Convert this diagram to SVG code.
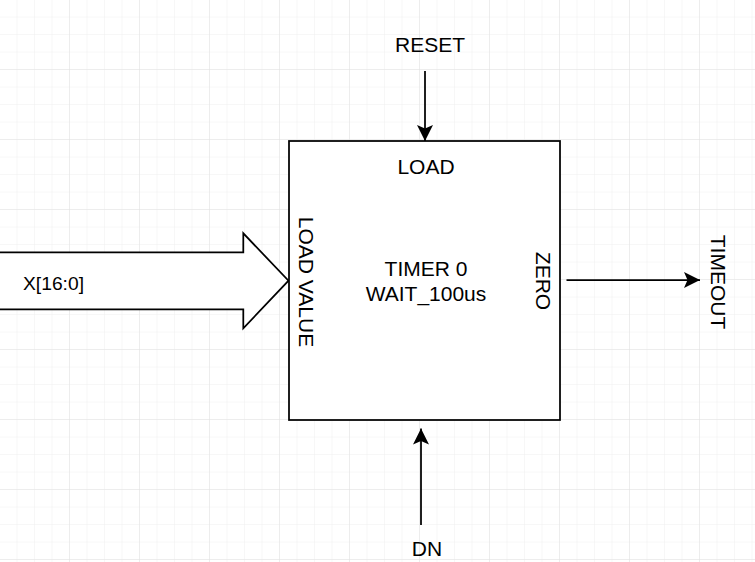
<svg xmlns="http://www.w3.org/2000/svg" width="755" height="562" viewBox="0 0 755 562">
<defs>
<pattern id="minor" width="17.5" height="17.5" patternUnits="userSpaceOnUse">
<path d="M17.5 0V17.5M0 17.5H17.5" fill="none" stroke="#f0f0f0" stroke-width="1"/>
</pattern>
<pattern id="major" width="70" height="70" patternUnits="userSpaceOnUse">
<rect width="70" height="70" fill="url(#minor)"/>
<path d="M70 0V70M0 70H70" fill="none" stroke="#e2e2e2" stroke-width="1"/>
</pattern>
<marker id="arr" viewBox="0 0 16 16" refX="16" refY="8" markerWidth="16" markerHeight="16" markerUnits="userSpaceOnUse" orient="auto">
<path d="M0 0L16 8L0 16L3.5 8Z" fill="#000"/>
</marker>
</defs>
<style>
text{font-family:"Liberation Sans",Arial,sans-serif;font-size:21px;fill:#000}
.c{text-anchor:middle}
.ln{fill:none;stroke:#000;stroke-width:1.75}
</style>
<rect x="-1" y="-1" width="757" height="564" fill="#fff"/>
<rect x="-0.5" y="-0.5" width="757" height="564" fill="url(#major)"/>
<g id="connectors">
<line class="ln" x1="425" y1="71" x2="425" y2="141" marker-end="url(#arr)"/>
<line class="ln" x1="421" y1="525" x2="421" y2="428.5" marker-end="url(#arr)"/>
<line class="ln" x1="566.5" y1="280" x2="700" y2="280" marker-end="url(#arr)"/>
</g>
<g id="bus-arrow">
<polygon points="-5,252.3 243.3,252.3 243.3,233.3 288.5,280.7 243.3,328.3 243.3,309.3 -5,309.3" fill="#fff" stroke="#000" stroke-width="1.75"/>
<text x="23" y="290" style="font-size:19.25px">X[16:0]</text>
</g>
<g id="timer">
<rect x="289" y="141" width="271" height="279" fill="#fff" stroke="#000" stroke-width="1.75"/>
<text class="c" x="426" y="174">LOAD</text>
<text class="c" x="426" y="276">TIMER 0</text>
<text class="c" x="426" y="301">WAIT_100us</text>
<text class="c" transform="translate(299,282) rotate(90)">LOAD VALUE</text>
<text class="c" transform="translate(536,281) rotate(90)">ZERO</text>
</g>
<g id="reset"><text class="c" x="430" y="52">RESET</text></g>
<g id="dn"><text class="c" x="427" y="556">DN</text></g>
<g id="timeout"><text class="c" transform="translate(711,282) rotate(90)">TIMEOUT</text></g>
</svg>
